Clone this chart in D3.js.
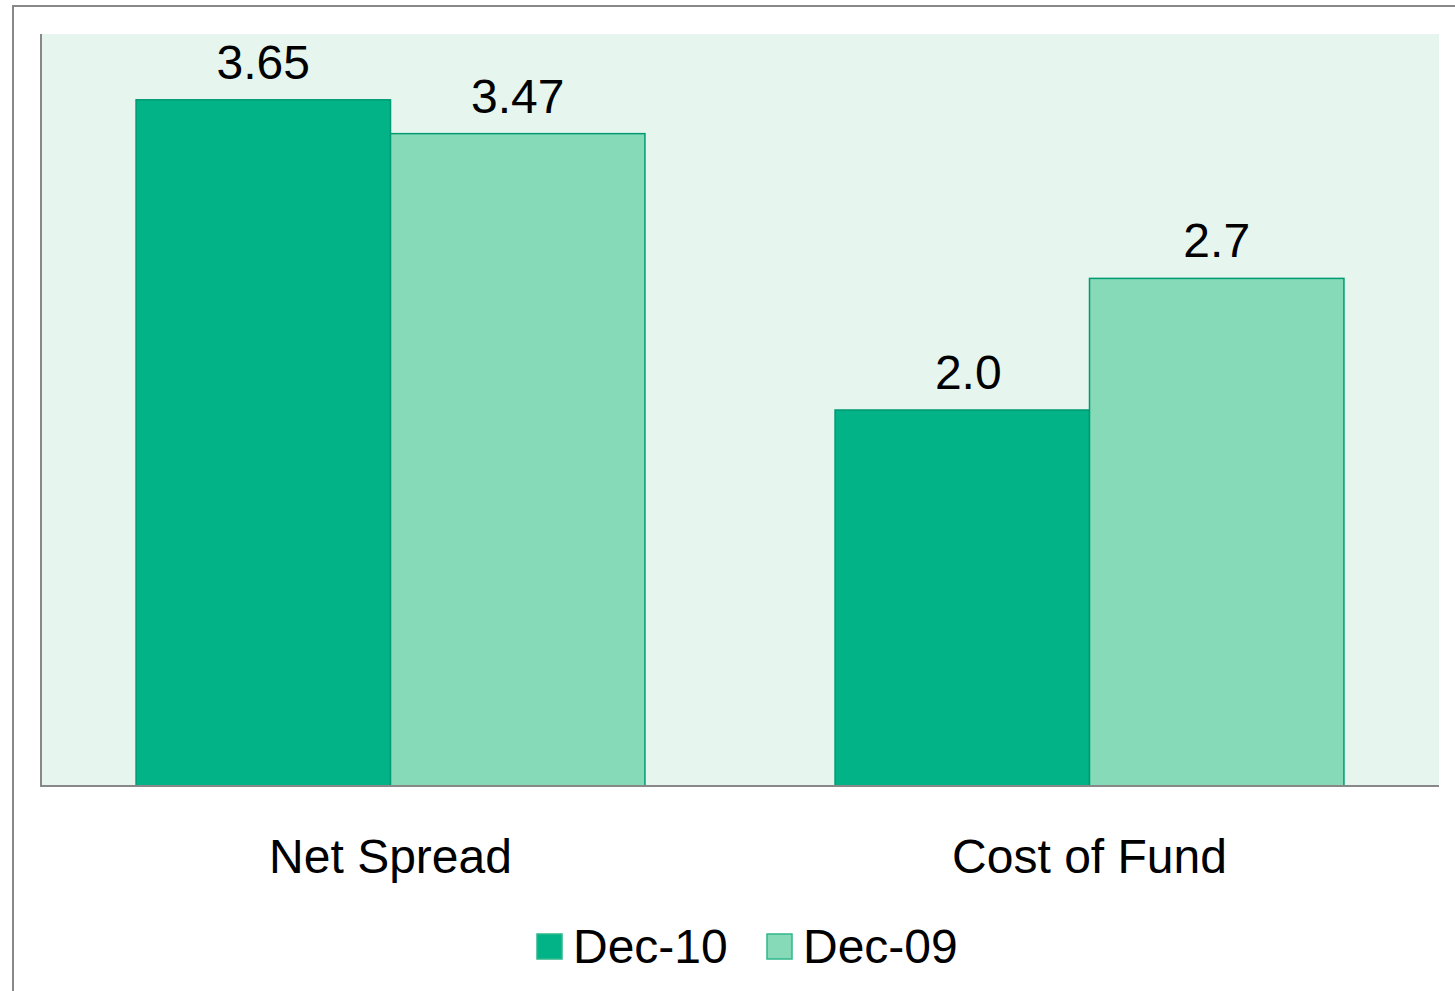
<!DOCTYPE html>
<html>
<head>
<meta charset="utf-8">
<script src="https://cdn.jsdelivr.net/npm/d3@7"></script>
<style>
  body { margin: 0; background: #fff; }
  text { font-family: "Liberation Sans", Arial, sans-serif; fill: #000; }
</style>
</head>
<body>
<div id="chart"></div>
<script>
// chart data
var categories = ['Net Spread', 'Cost of Fund'],
	seriesNames = ['Dec-10', 'Dec-09'],
	dec10 = [3.65, 2.0],
	dec09 = [3.47, 2.7],
	valueLabels = [['3.65', '3.47'], ['2.0', '2.7']];

var colors = ['#02b388', '#86dab8'];

var svgWidth = 1455,
	svgHeight = 991;

var plot = { left: 41, right: 1439, top: 34, bottom: 786 };

var svg = d3.select('#chart')
	.append('svg')
	.attr('width', svgWidth)
	.attr('height', svgHeight);

// outer frame
svg.append('rect')
	.attr('x', 13).attr('y', 6)
	.attr('width', 1500).attr('height', 1100)
	.attr('fill', '#fff')
	.attr('stroke', '#888')
	.attr('stroke-width', 2);

// plot background
svg.append('rect')
	.attr('x', plot.left).attr('y', plot.top)
	.attr('width', plot.right - plot.left)
	.attr('height', plot.bottom - plot.top)
	.attr('fill', '#e6f5ee');

var x0 = d3.scaleBand()
	.domain(categories)
	.range([plot.left, plot.right])
	.paddingInner(0.272)
	.paddingOuter(0.136);

var x1 = d3.scaleBand()
	.domain(seriesNames)
	.range([0, x0.bandwidth()]);

var y = d3.scaleLinear()
	.domain([0, 4])
	.range([plot.bottom, plot.top]);

var data = categories.map((c, i) => ({
	cat: c,
	values: [
		{ name: seriesNames[0], v: dec10[i], label: valueLabels[i][0] },
		{ name: seriesNames[1], v: dec09[i], label: valueLabels[i][1] }
	]
}));

var groups = svg.selectAll('g.group')
	.data(data)
	.enter()
	.append('g')
	.attr('class', 'group')
	.attr('transform', d => `translate(${x0(d.cat)},0)`);

groups.selectAll('rect')
	.data(d => d.values)
	.enter()
	.append('rect')
	.attr('x', d => x1(d.name))
	.attr('y', d => y(d.v))
	.attr('width', x1.bandwidth())
	.attr('height', d => y(0) - y(d.v))
	.attr('fill', (d, i) => colors[i])
	.attr('stroke', '#009a72')
	.attr('stroke-width', 1.5);

// value labels (the 2.0 label sits a little right of centre in the original)
groups.selectAll('text')
	.data(d => d.values)
	.enter()
	.append('text')
	.attr('x', d => x1(d.name) + x1.bandwidth() / 2 + (d.label === '2.0' ? 6 : 0))
	.attr('y', d => y(d.v) - 21)
	.attr('text-anchor', 'middle')
	.style('font-size', '48px')
	.text(d => d.label);

// axes lines
svg.append('line')
	.attr('x1', 41).attr('x2', 41)
	.attr('y1', plot.top).attr('y2', plot.bottom + 1)
	.attr('stroke', '#888').attr('stroke-width', 2);

var xAxis = svg.append('g')
	.attr('transform', `translate(0,${plot.bottom})`)
	.call(d3.axisBottom(x0).tickSize(0).tickPadding(0));
xAxis.select('.domain').attr('stroke', '#888').attr('stroke-width', 2)
	.attr('d', `M40,0H${plot.right}`);
xAxis.selectAll('.tick text')
	.attr('y', 87)
	.attr('dy', 0)
	.style('font-size', '48px')
	.style('font-family', '"Liberation Sans", Arial, sans-serif')
	.attr('fill', '#000');

// legend
var legendX = [537, 767];
var legend = svg.append('g');
seriesNames.forEach((s, i) => {
	legend.append('rect')
		.attr('x', legendX[i]).attr('y', 934)
		.attr('width', 25).attr('height', 25)
		.attr('fill', colors[i])
		.attr('stroke', '#2fb88c')
		.attr('stroke-width', 1.5);
	legend.append('text')
		.attr('x', legendX[i] + 36)
		.attr('y', 963)
		.style('font-size', '48px')
		.text(s);
});
</script>
</body>
</html>
